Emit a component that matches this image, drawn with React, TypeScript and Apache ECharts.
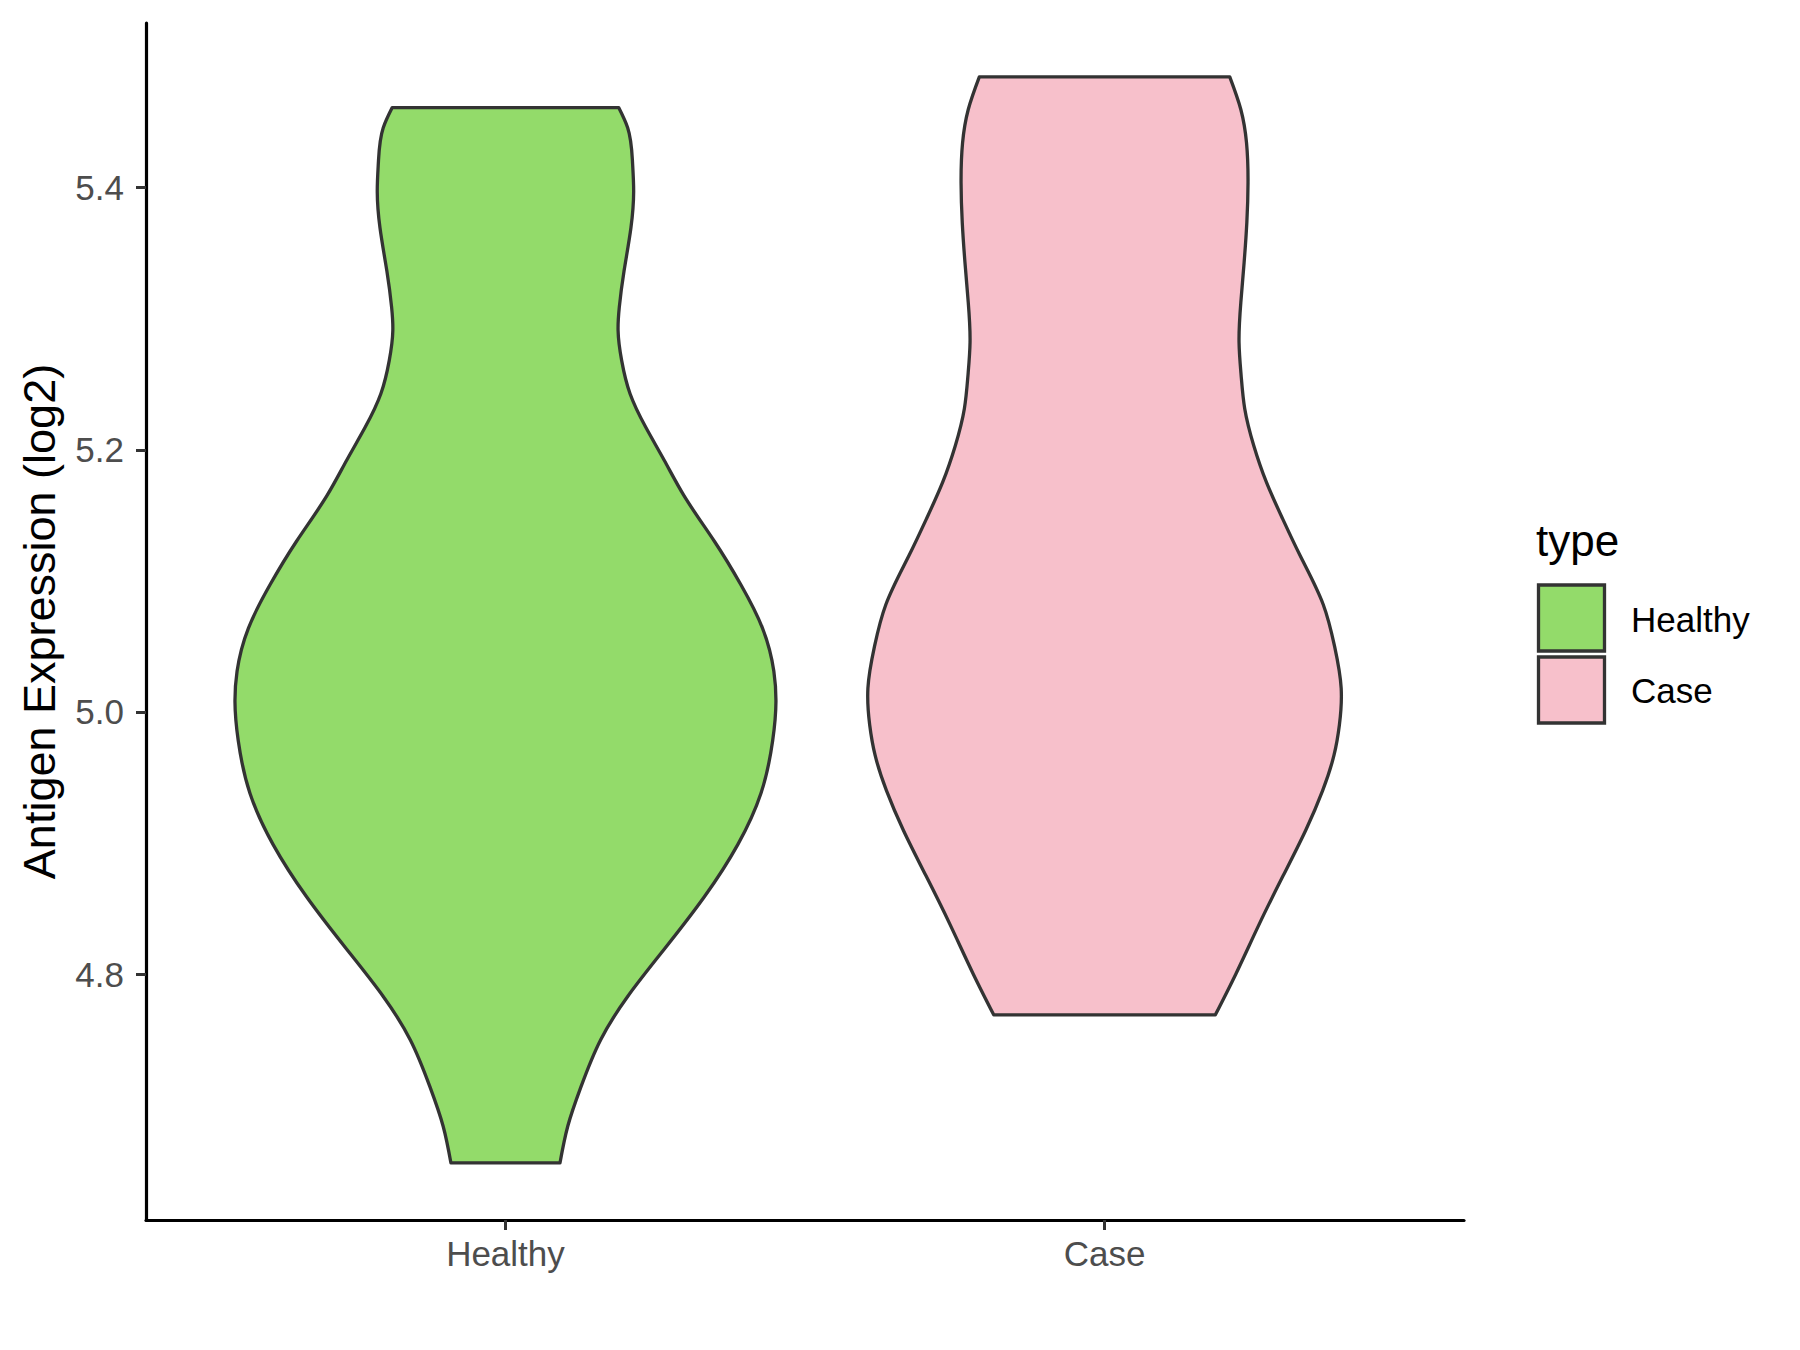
import React, { useEffect, useRef } from "react";
import * as echarts from "echarts";

const categories = ["Healthy", "Case"];
const yTicks = [4.8, 5.0, 5.2, 5.4];
const xTicks = [1, 2];

// Violin outlines: expression value (log2) and half-width (in category units)
const healthyY = [5.461, 5.4456, 5.42, 5.397, 5.3695, 5.3365, 5.3086, 5.291, 5.268, 5.2427, 5.2173, 5.192, 5.165, 5.13, 5.097, 5.064, 5.031, 5.008, 4.978, 4.938, 4.899, 4.859, 4.819, 4.783, 4.75, 4.714, 4.684, 4.656];
const healthyHalfWidth = [0.189, 0.204, 0.212, 0.214, 0.2095, 0.198, 0.19, 0.188, 0.194, 0.208, 0.234, 0.265, 0.298, 0.349, 0.393, 0.429, 0.448, 0.4515, 0.446, 0.4265, 0.388, 0.332, 0.265, 0.204, 0.159, 0.126, 0.104, 0.091];

const caseY = [5.4844, 5.4595, 5.434, 5.4037, 5.3733, 5.343, 5.3124, 5.282, 5.2566, 5.2313, 5.2033, 5.1755, 5.1476, 5.1197, 5.082, 5.05, 5.018, 4.99, 4.967, 4.94, 4.91, 4.875, 4.838, 4.8, 4.769];
const caseHalfWidth = [0.209, 0.2275, 0.237, 0.2395, 0.2375, 0.233, 0.2275, 0.2245, 0.228, 0.234, 0.249, 0.27, 0.297, 0.326, 0.365, 0.384, 0.395, 0.392, 0.383, 0.364, 0.336, 0.298, 0.258, 0.219, 0.185];

const fills = ["#93DB6A", "#F7C0CB"];
const outline = "#333333";
const FONT = "'Liberation Sans', Arial, Helvetica, sans-serif";

// Natural cubic spline x(y) through the outline points, emitted as bezier segments
function splineSegments(pts: number[][]): string {
  const n = pts.length;
  const h: number[] = [];
  for (let i = 0; i < n - 1; i++) h.push(pts[i + 1][1] - pts[i][1]);
  const M = new Array(n).fill(0);
  if (n > 2) {
    const a: number[] = [], b: number[] = [], c: number[] = [], r: number[] = [];
    for (let i = 1; i < n - 1; i++) {
      a.push(h[i - 1]);
      b.push(2 * (h[i - 1] + h[i]));
      c.push(h[i]);
      r.push(6 * ((pts[i + 1][0] - pts[i][0]) / h[i] - (pts[i][0] - pts[i - 1][0]) / h[i - 1]));
    }
    const m = b.length;
    for (let i = 1; i < m; i++) {
      const w = a[i] / b[i - 1];
      b[i] -= w * c[i - 1];
      r[i] -= w * r[i - 1];
    }
    const sol = new Array(m).fill(0);
    sol[m - 1] = r[m - 1] / b[m - 1];
    for (let i = m - 2; i >= 0; i--) sol[i] = (r[i] - c[i] * sol[i + 1]) / b[i];
    for (let i = 0; i < m; i++) M[i + 1] = sol[i];
  }
  const deriv: number[] = [];
  for (let i = 0; i < n - 1; i++) {
    deriv.push((pts[i + 1][0] - pts[i][0]) / h[i] - (h[i] * (2 * M[i] + M[i + 1])) / 6);
  }
  deriv.push((pts[n - 1][0] - pts[n - 2][0]) / h[n - 2] + (h[n - 2] * (M[n - 2] + 2 * M[n - 1])) / 6);
  let d = "";
  for (let i = 0; i < n - 1; i++) {
    const hh = h[i];
    const c1x = pts[i][0] + (deriv[i] * hh) / 3;
    const c1y = pts[i][1] + hh / 3;
    const c2x = pts[i + 1][0] - (deriv[i + 1] * hh) / 3;
    const c2y = pts[i + 1][1] - hh / 3;
    d += ` C ${c1x} ${c1y} ${c2x} ${c2y} ${pts[i + 1][0]} ${pts[i + 1][1]}`;
  }
  return d;
}

function violinSeries(index: number, ys: number[], ws: number[]) {
  const center = index + 1;
  return {
    type: "custom",
    name: categories[index],
    data: [[center, ys[0]]],
    encode: { x: 0, y: 1 },
    clip: false,
    renderItem: (_params: any, api: any) => {
      const left = ys.map((y, i) => api.coord([center - ws[i], y]));
      const right = ys.map((y, i) => api.coord([center + ws[i], y])).reverse();
      const d =
        `M ${left[0][0]} ${left[0][1]}` +
        splineSegments(left) +
        ` L ${right[0][0]} ${right[0][1]}` +
        splineSegments(right) +
        " Z";
      return {
        type: "path",
        shape: { pathData: d },
        style: { fill: fills[index], stroke: outline, lineWidth: 3.3, lineJoin: "round" },
      };
    },
  };
}

export default function App() {
  const ref = useRef<HTMLDivElement>(null);
  useEffect(() => {
    if (!ref.current) return;
    const chart = echarts.init(ref.current, undefined, { renderer: "svg" });
    chart.setOption({
      animation: false,
      backgroundColor: "#FFFFFF",
      grid: { left: 146, right: 336, top: 23, bottom: 130, containLabel: false },
      xAxis: {
        type: "value",
        min: 0.4,
        max: 2.6,
        axisLine: { show: true, onZero: false, lineStyle: { color: "#000000", width: 3.2 } },
        axisTick: { show: true, customValues: xTicks, length: 10, lineStyle: { color: "#333333", width: 3 } },
        axisLabel: {
          customValues: xTicks,
          formatter: (v: number) => categories[Math.round(v) - 1] ?? "",
          margin: 16,
          fontSize: 35,
          lineHeight: 35,
          color: "#4D4D4D",
          fontFamily: FONT,
        },
        splitLine: { show: false },
      },
      yAxis: {
        type: "value",
        min: 4.6125,
        max: 5.5255,
        axisLine: { show: true, onZero: false, lineStyle: { color: "#000000", width: 3.2 } },
        axisTick: { show: true, customValues: yTicks, length: 10, lineStyle: { color: "#333333", width: 3 } },
        axisLabel: {
          customValues: yTicks,
          formatter: (v: number) => v.toFixed(1),
          margin: 22,
          fontSize: 35,
          color: "#4D4D4D",
          fontFamily: FONT,
        },
        splitLine: { show: false },
      },
      series: [violinSeries(0, healthyY, healthyHalfWidth), violinSeries(1, caseY, caseHalfWidth)],
      graphic: [
        {
          type: "text",
          x: 39.5,
          y: 621.5,
          rotation: Math.PI / 2,
          style: {
            text: "Antigen Expression (log2)",
            fontSize: 45,
            fontFamily: FONT,
            fill: "#000000",
            align: "center",
            verticalAlign: "middle",
          },
        },
        {
          type: "text",
          x: 1536,
          y: 540,
          style: { text: "type", fontSize: 44, fontFamily: FONT, fill: "#000000", align: "left", verticalAlign: "middle" },
        },
        {
          type: "rect",
          shape: { x: 1538.5, y: 585, width: 66, height: 66 },
          style: { fill: fills[0], stroke: outline, lineWidth: 3.3 },
        },
        {
          type: "rect",
          shape: { x: 1538.5, y: 657, width: 66, height: 66 },
          style: { fill: fills[1], stroke: outline, lineWidth: 3.3 },
        },
        {
          type: "text",
          x: 1631,
          y: 619,
          style: { text: categories[0], fontSize: 35, fontFamily: FONT, fill: "#000000", align: "left", verticalAlign: "middle" },
        },
        {
          type: "text",
          x: 1631,
          y: 690,
          style: { text: categories[1], fontSize: 35, fontFamily: FONT, fill: "#000000", align: "left", verticalAlign: "middle" },
        },
      ],
    });
    return () => chart.dispose();
  }, []);
  return (
    <div
      ref={ref}
      style={{ position: "absolute", left: 0, top: 0, width: 1800, height: 1350, background: "#FFFFFF" }}
    />
  );
}
